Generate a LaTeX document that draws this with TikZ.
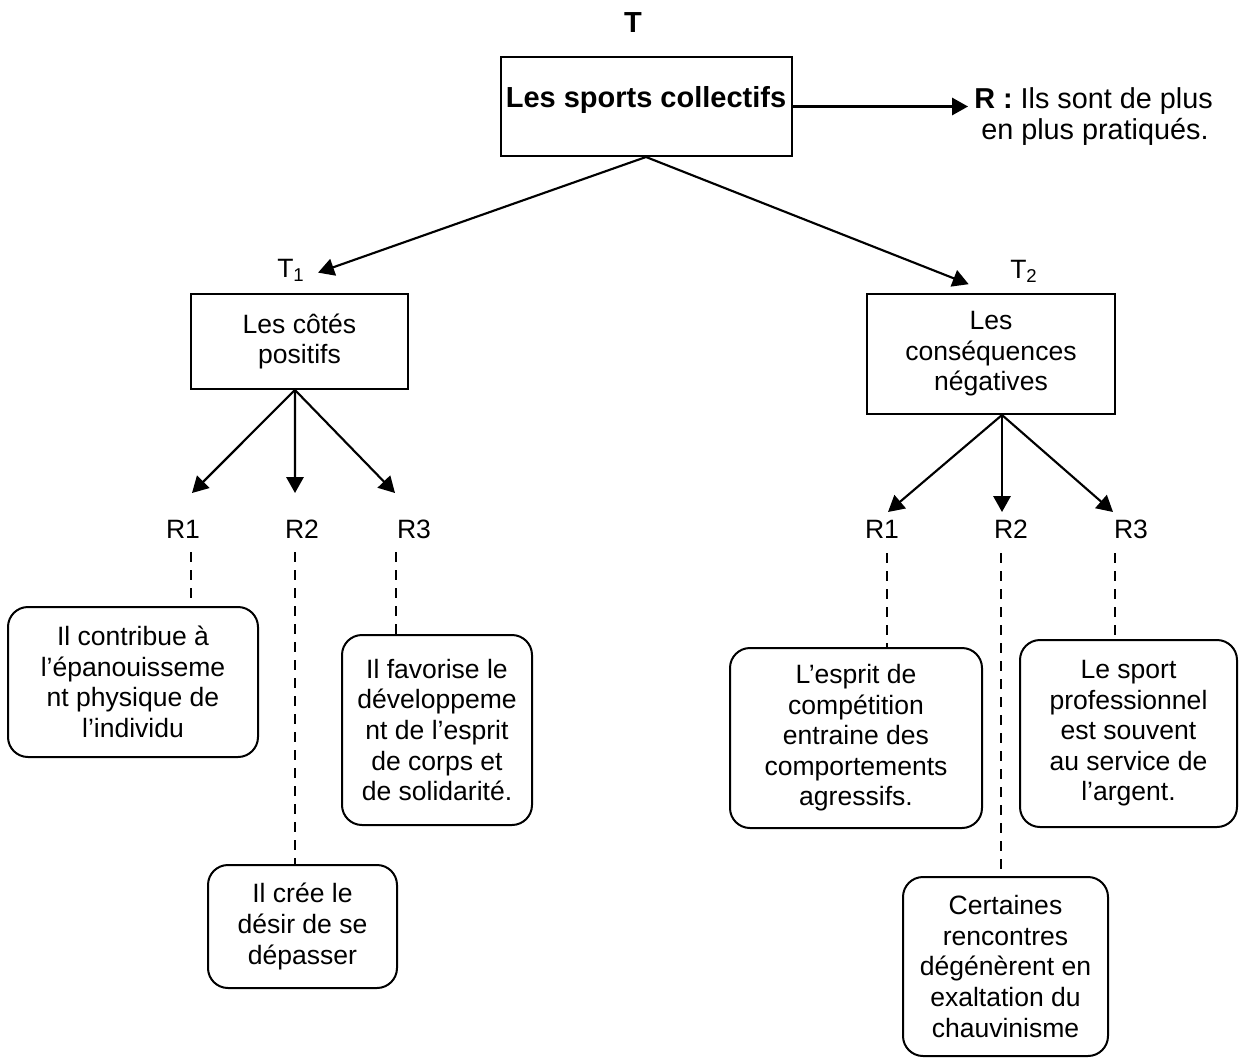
\documentclass[tikz,border=0pt]{standalone}
\usepackage{fontspec}
\setmainfont{Liberation Sans}
\usetikzlibrary{arrows.meta}
\begin{document}
\begin{tikzpicture}[x=0.75pt,y=-0.75pt,
  every node/.style={inner sep=0pt, font=\fontsize{19.9pt}{22.9pt}\selectfont},
  bigfont/.style={font=\fontsize{21.75pt}{23.25pt}\selectfont\bfseries},
  resfont/.style={font=\fontsize{21.6pt}{23.25pt}\selectfont},
  headbox/.style={draw, line width=1.5pt},
  themebox/.style={draw, line width=1.5pt, align=center},
  ideabox/.style={draw, line width=1.5pt, rounded corners=15pt, align=center},
  tag/.style={anchor=base},
  arr/.style={line width=1.6pt, -{Triangle[length=12pt,width=13pt]}},
  link/.style={line width=1.6pt, dash pattern=on 7.5pt off 6pt},
]
\useasboundingbox (0,0) rectangle (1246,1060);

% --- theme and its main assertion
\node[bigfont, anchor=base] (ttl) at (633,32) {T};
\node[headbox, bigfont, anchor=base, minimum width=218.25pt,
      text height=37.5pt, text depth=36.75pt] (top) at (646,107) {Les sports collectifs};
\node[resfont, anchor=north west, align=left] (res) at (974,87)
  {\textbf{R :} Ils sont de plus\\\hspace*{5.25pt}en plus pratiqués.};
\draw[arr, shorten >=4.5pt] (top.east) -- (top.east -| res.west);

% --- the two sub-themes
\node[anchor=base west] (t1) at (277,277) {T\textsubscript{1}};
\node[anchor=base west] (t2) at (1010,278) {T\textsubscript{2}};
\node[themebox, minimum width=162.75pt, minimum height=71.25pt] (pos) at (299.5,341.5) {Les côtés\\positifs};
\node[themebox, minimum width=186pt, minimum height=90pt] (neg) at (991,354) {Les\\conséquences\\négatives};
\draw[arr] (top.south) -- ([xshift=10pt,yshift=-2pt]t1.east);
\draw[arr, shorten >=18pt] (top.south) -- (neg.north);

% --- branch points and arrow ends
\coordinate (posfoot) at ([xshift=-3.4pt]pos.south);
\coordinate (negfoot) at ([xshift=8.25pt]neg.south);
\coordinate (pa1) at (192,493);
\coordinate (pa2) at (295,493);
\coordinate (pa3) at (395,493);
\coordinate (na1) at (888,512);
\coordinate (na2) at (1002,512);
\coordinate (na3) at (1113,512);
\foreach \t in {pa1,pa2,pa3} \draw[arr] (posfoot) -- (\t);
\foreach \t in {na1,na2,na3} \draw[arr] (negfoot) -- (\t);

% --- R labels
\node[tag] (pr1) at (183,538) {R1};
\node[tag] (pr2) at (302,538) {R2};
\node[tag] (pr3) at (414,538) {R3};
\node[tag] (nr1) at (882,538) {R1};
\node[tag] (nr2) at (1011,538) {R2};
\node[tag] (nr3) at (1131,538) {R3};

% --- arguments
\node[ideabox, minimum width=187.5pt, minimum height=112.5pt] (pc1) at (133,682)
  {Il contribue à\\l’épanouisseme\\nt physique de\\l’individu};
\node[ideabox, minimum width=141.75pt, minimum height=92.25pt] (pc2) at (302.5,926.5)
  {Il crée le\\désir de se\\dépasser};
\node[ideabox, minimum width=142.5pt, minimum height=142.5pt] (pc3) at (437,730)
  {Il favorise le\\développeme\\nt de l’esprit\\de corps et\\de solidarité.};
\node[ideabox, minimum width=189pt, minimum height=135pt] (nc1) at (856,738)
  {L’esprit de\\compétition\\entraine des\\comportements\\agressifs.};
\node[ideabox, minimum width=153.75pt, minimum height=134.25pt] (nc2) at (1005.5,966.5)
  {Certaines\\rencontres\\dégénèrent en\\exaltation du\\chauvinisme};
\node[ideabox, minimum width=162.75pt, minimum height=140.25pt] (nc3) at (1128.5,733.5)
  {Le sport\\professionnel\\est souvent\\au service de\\l’argent.};

% --- dashed links from labels to arguments
\coordinate (pd1) at (191,552);
\coordinate (pd2) at (295,552);
\coordinate (pd3) at (396,552);
\coordinate (nd1) at (887,553);
\coordinate (nd2) at (1001,553);
\coordinate (nd3) at (1115,553);
\draw[link] (pd1) -- (pd1 |- pc1.north);
\draw[link] (pd2) -- (pd2 |- pc2.north);
\draw[link] (pd3) -- (pd3 |- pc3.north);
\draw[link] (nd1) -- (nd1 |- nc1.north);
\draw[link] (nd2) -- (nd2 |- nc2.north);
\draw[link] (nd3) -- (nd3 |- nc3.north);
\end{tikzpicture}
\end{document}
